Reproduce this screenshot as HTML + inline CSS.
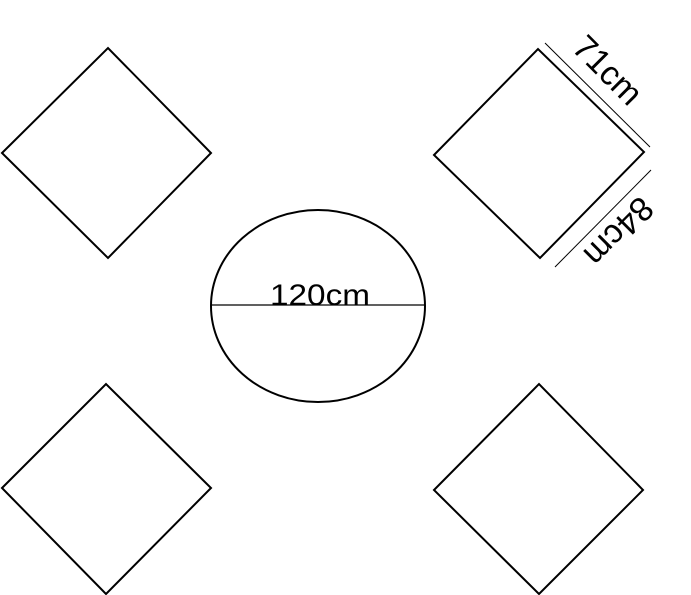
<!DOCTYPE html><html><head><style>body{margin:0;background:#fff}</style></head><body>
<svg width="691" height="595" xmlns="http://www.w3.org/2000/svg" style="display:block">
<g fill="none" stroke="#000" stroke-width="2">
<polygon points="2,153 108,48 211,153 108,258"/>
<polygon points="434,155 538,49 644,152 540,258"/>
<polygon points="2,488 106,384 211,488 106,594"/>
<polygon points="434,490 539,384 643,490 539,594"/>
<ellipse cx="318" cy="306" rx="107" ry="96"/>
</g>
<line x1="211" y1="305" x2="425" y2="305" stroke="#000" stroke-width="1.2"/>
<line x1="545" y1="43" x2="650" y2="147" stroke="#000" stroke-width="1"/>
<line x1="651" y1="170" x2="555" y2="267" stroke="#000" stroke-width="1"/>
<g font-family="Liberation Sans, sans-serif" fill="#000" text-anchor="middle">
<text x="320" y="305" font-size="30" textLength="100" lengthAdjust="spacingAndGlyphs">120cm</text>
<text transform="translate(606,72) rotate(45)" dominant-baseline="middle" font-size="34" textLength="82" lengthAdjust="spacingAndGlyphs">71cm</text>
<text transform="translate(617,230) rotate(135)" dominant-baseline="middle" font-size="34" textLength="82" lengthAdjust="spacingAndGlyphs">84cm</text>
</g>
</svg></body></html>
